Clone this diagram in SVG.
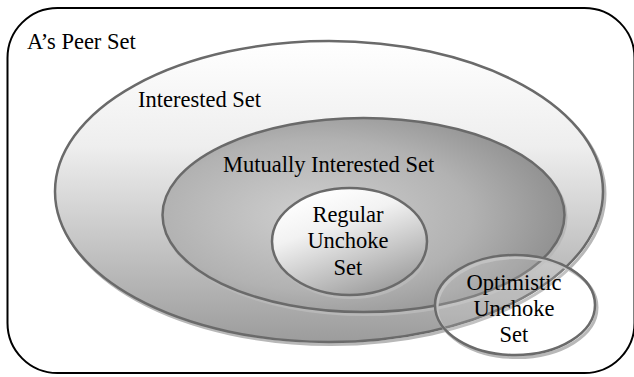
<svg xmlns="http://www.w3.org/2000/svg" width="634" height="377" viewBox="0 0 634 377">
<defs>
<linearGradient id="gInt" x1="0" y1="0" x2="0" y2="1">
<stop offset="0" stop-color="#ffffff"/>
<stop offset="0.35" stop-color="#eeeeee"/>
<stop offset="1" stop-color="#9c9c9c"/>
</linearGradient>
<radialGradient id="gMut" cx="0.38" cy="0.5" r="0.7">
<stop offset="0" stop-color="#cfcfcf"/>
<stop offset="0.55" stop-color="#b2b2b2"/>
<stop offset="1" stop-color="#868686"/>
</radialGradient>
<linearGradient id="gReg" x1="0.25" y1="0.05" x2="0.75" y2="1">
<stop offset="0" stop-color="#ffffff"/>
<stop offset="0.3" stop-color="#f2f2f2"/>
<stop offset="1" stop-color="#9a9a9a"/>
</linearGradient>
</defs>
<style>
.t{font-family:"Liberation Serif","Times New Roman",serif;font-size:22.5px;fill:#000}
.c{text-anchor:middle}
.set{stroke:#6a6a6a;stroke-width:2.5}
.shadow{fill:none;stroke:#b8b8b8;stroke-width:3}
</style>
<g id="peer-set">
<rect x="7.5" y="8" width="627" height="365" rx="50" ry="50" fill="#ffffff" stroke="#000" stroke-width="2"/>
<text class="t" x="27" y="49">A’s Peer Set</text>
</g>
<g id="interested-set">
<ellipse class="shadow" cx="331" cy="194" rx="274" ry="150.5"/>
<ellipse class="set" cx="329" cy="191.5" rx="274" ry="150.5" fill="url(#gInt)"/>
<text class="t" x="138" y="107">Interested Set</text>
</g>
<g id="mutually-interested-set">
<ellipse class="shadow" cx="365" cy="217.5" rx="201" ry="97"/>
<ellipse class="set" cx="363.5" cy="215" rx="201" ry="97" fill="url(#gMut)"/>
<text class="t" x="223" y="171.5">Mutually Interested Set</text>
</g>
<g id="regular-unchoke-set">
<ellipse class="shadow" cx="351" cy="244" rx="77.5" ry="53.5"/>
<ellipse class="set" cx="349.5" cy="241.5" rx="77.5" ry="53.5" fill="url(#gReg)"/>
<text class="t c" x="348" y="221.5">Regular</text>
<text class="t c" x="348" y="248">Unchoke</text>
<text class="t c" x="348" y="275">Set</text>
</g>
<g id="optimistic-unchoke-set">
<ellipse class="shadow" cx="517" cy="307.5" rx="80" ry="50"/>
<ellipse class="set" cx="515" cy="305" rx="80" ry="50" fill="#ffffff" fill-opacity="0.15"/>
<text class="t c" x="514" y="290">Optimistic</text>
<text class="t c" x="514" y="316">Unchoke</text>
<text class="t c" x="514" y="342">Set</text>
</g>
<g id="connectors"/>
</svg>
